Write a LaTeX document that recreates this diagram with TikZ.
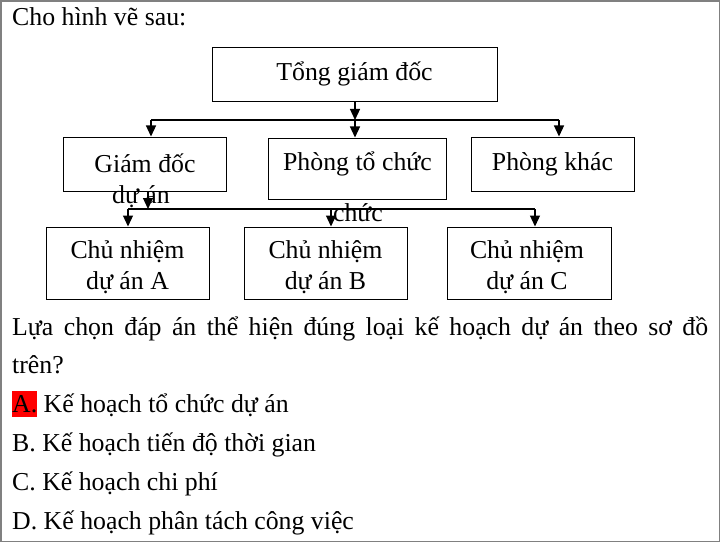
\documentclass[tikz,border=0pt]{standalone}
\usepackage{fontspec}
\setmainfont{Liberation Serif}
\usepackage{tikz}
\usetikzlibrary{arrows.meta,positioning}
\tikzstyle{arrow} = [line width=1.2pt, -{Triangle[width=10pt,length=11pt]}]
\tikzstyle{bus} = [line width=1.2pt]
\tikzstyle{chartbox} = [rectangle, draw, line width=1pt, inner sep=0pt, text height=17pt, text depth=5pt]
\tikzstyle{txt} = [font=\fontsize{25.8}{31}\selectfont, inner sep=0pt]

\begin{document}
\begin{tikzpicture}[x=1pt, y=-1pt, txt]
\useasboundingbox (0,0) rectangle (721,543);
\draw[gray, line width=1.5pt] (1,1) rectangle (719.5,541.5);

% Title
\node[txt, anchor=base west] (title) at (12,26) {Cho hình vẽ sau:};

% Top level
\node[chartbox, minimum width=285pt, minimum height=54pt] (tgd) at (354.5,75) {Tổng giám đốc};

% Second level
\node[chartbox, minimum width=163pt, minimum height=54pt] (gdda) at (144.5,164) {};
\node[txt, anchor=base] (gdda1) at (145,172) {Giám đốc};
\node[txt, anchor=base] (gdda2) at (141,203) {dự án};
\node[chartbox, minimum width=178pt, minimum height=61pt] (ptc) at (357,168.5) {};
\node[txt, anchor=base] (ptc1) at (357.5,170) {Phòng tổ chức};
\node[txt, anchor=base] (ptc2) at (358,221) {chức};
\node[chartbox, minimum width=163pt, minimum height=54pt] (pk) at (552.5,164) {Phòng khác};

% Third level
\node[chartbox, minimum width=163pt, minimum height=72pt] (cna) at (127.5,263) {};
\node[txt, align=center] (cnatext) at (127.5,267) {Chủ nhiệm\\dự án A};
\node[chartbox, minimum width=163pt, minimum height=72pt] (cnb) at (325.5,263) {};
\node[txt, align=center] (cnbtext) at (325.5,267) {Chủ nhiệm\\dự án B};
\node[chartbox, minimum width=164pt, minimum height=72pt] (cnc) at (529,263) {};
\node[txt, align=center] (cnctext) at (527,267) {Chủ nhiệm\\dự án C};

% Connectors, top
\coordinate (bus1) at (355,120);
\coordinate (bus1l) at (151,120);
\coordinate (bus1r) at (559,120);
\draw[arrow] (tgd.south -| bus1) -- (bus1);
\draw[bus] (bus1l) -- (bus1r);
\draw[arrow] (bus1l) -- (bus1l |- gdda.north);
\draw[arrow] (bus1) -- (bus1 |- ptc.north);
\draw[arrow] (bus1r) -- (bus1r |- pk.north);

% Connectors, projects
\coordinate (bus2) at (148,209);
\coordinate (bus2l) at (128,209);
\coordinate (bus2m) at (331,209);
\coordinate (bus2r) at (535,209);
\draw[arrow] (gdda.south -| bus2) -- (bus2);
\draw[bus] (bus2l) -- (bus2r);
\draw[arrow] (bus2l) -- (bus2l |- cna.north);
\draw[arrow] (bus2m) -- (bus2m |- cnb.north);
\draw[arrow] (bus2r) -- (bus2r |- cnc.north);

% Question
\node[txt, anchor=base west] (q1) at (12,335) {\makebox[696pt][s]{Lựa chọn đáp án thể hiện đúng loại kế hoạch dự án theo sơ đồ}};
\node[txt, anchor=base west] (q2) at (12,373) {trên?};
\node[txt, anchor=base west] (optA) at (12,412) {{\setlength{\fboxsep}{0pt}\colorbox{red}{\rule[-5pt]{0pt}{26pt}A.}} Kế hoạch tổ chức dự án};
\node[txt, anchor=base west] (optB) at (12,451) {B. Kế hoạch tiến độ thời gian};
\node[txt, anchor=base west] (optC) at (12,490) {C. Kế hoạch chi phí};
\node[txt, anchor=base west] (optD) at (12,529) {D. Kế hoạch phân tách công việc};
\end{tikzpicture}
\end{document}
